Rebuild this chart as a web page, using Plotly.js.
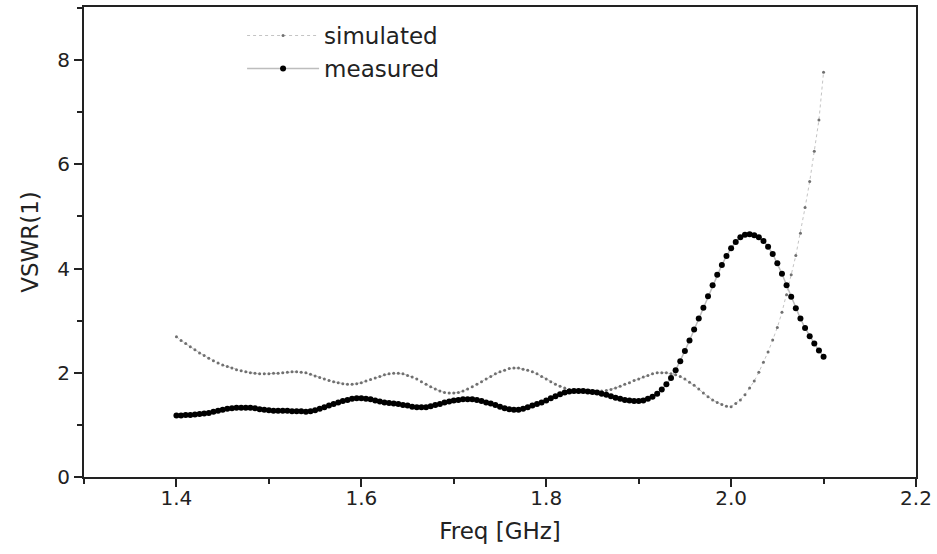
<!DOCTYPE html>
<html>
<head>
<meta charset="utf-8">
<script src="https://cdn.plot.ly/plotly-3.0.1.min.js"></script>
<style>html,body{margin:0;padding:0;background:#fff}#chart{width:937px;height:554px}</style>
</head>
<body>
<div id="chart"></div>
<script>
const freq = [
1.400,1.405,1.410,1.415,1.420,1.425,1.430,1.435,1.440,1.445,
1.450,1.455,1.460,1.465,1.470,1.475,1.480,1.485,1.490,1.495,
1.500,1.505,1.510,1.515,1.520,1.525,1.530,1.535,1.540,1.545,
1.550,1.555,1.560,1.565,1.570,1.575,1.580,1.585,1.590,1.595,
1.600,1.605,1.610,1.615,1.620,1.625,1.630,1.635,1.640,1.645,
1.650,1.655,1.660,1.665,1.670,1.675,1.680,1.685,1.690,1.695,
1.700,1.705,1.710,1.715,1.720,1.725,1.730,1.735,1.740,1.745,
1.750,1.755,1.760,1.765,1.770,1.775,1.780,1.785,1.790,1.795,
1.800,1.805,1.810,1.815,1.820,1.825,1.830,1.835,1.840,1.845,
1.850,1.855,1.860,1.865,1.870,1.875,1.880,1.885,1.890,1.895,
1.900,1.905,1.910,1.915,1.920,1.925,1.930,1.935,1.940,1.945,
1.950,1.955,1.960,1.965,1.970,1.975,1.980,1.985,1.990,1.995,
2.000,2.005,2.010,2.015,2.020,2.025,2.030,2.035,2.040,2.045,
2.050,2.055,2.060,2.065,2.070,2.075,2.080,2.085,2.090,2.095,
2.100];

const simulated = [
2.69,2.62,2.56,2.50,2.44,2.38,2.33,2.28,2.23,2.19,
2.15,2.12,2.09,2.06,2.04,2.02,2.00,1.99,1.98,1.98,
1.98,1.99,1.99,2.00,2.01,2.02,2.02,2.01,2.00,1.97,
1.94,1.91,1.88,1.85,1.83,1.81,1.79,1.78,1.78,1.79,
1.81,1.84,1.87,1.90,1.93,1.96,1.98,1.99,1.99,1.98,
1.95,1.92,1.88,1.83,1.78,1.73,1.69,1.65,1.62,1.61,
1.61,1.62,1.65,1.69,1.73,1.78,1.83,1.88,1.93,1.98,
2.02,2.05,2.08,2.09,2.09,2.07,2.05,2.02,1.98,1.93,
1.88,1.83,1.78,1.74,1.71,1.68,1.66,1.65,1.64,1.64,
1.64,1.64,1.65,1.66,1.68,1.71,1.74,1.78,1.81,1.85,
1.88,1.92,1.95,1.98,2.00,2.00,2.00,1.98,1.96,1.93,
1.88,1.82,1.76,1.69,1.61,1.54,1.48,1.43,1.39,1.36,
1.35,1.41,1.48,1.58,1.71,1.84,2.01,2.20,2.40,2.63,
2.87,3.16,3.50,3.88,4.25,4.68,5.17,5.67,6.25,6.85,
7.77];

const measured = [
1.18,1.18,1.19,1.19,1.20,1.21,1.22,1.23,1.25,1.27,
1.29,1.31,1.32,1.33,1.33,1.33,1.33,1.32,1.30,1.29,
1.28,1.27,1.27,1.27,1.27,1.26,1.26,1.26,1.25,1.26,
1.28,1.31,1.34,1.37,1.40,1.43,1.46,1.48,1.50,1.51,
1.51,1.50,1.49,1.47,1.45,1.43,1.42,1.41,1.40,1.38,
1.37,1.35,1.34,1.34,1.34,1.36,1.38,1.40,1.43,1.45,
1.47,1.48,1.49,1.49,1.49,1.48,1.46,1.43,1.41,1.38,
1.35,1.32,1.30,1.29,1.29,1.31,1.34,1.37,1.40,1.43,
1.47,1.51,1.55,1.59,1.62,1.64,1.65,1.65,1.65,1.64,
1.63,1.62,1.60,1.58,1.55,1.52,1.50,1.48,1.47,1.46,
1.46,1.47,1.50,1.54,1.60,1.68,1.78,1.90,2.05,2.22,
2.42,2.62,2.83,3.04,3.25,3.47,3.68,3.88,4.07,4.24,
4.39,4.51,4.60,4.65,4.66,4.64,4.60,4.53,4.42,4.28,
4.10,3.90,3.68,3.46,3.24,3.04,2.86,2.70,2.56,2.43,
2.31];

const seriesNames = ['simulated', 'measured'];
const xTitle = 'Freq [GHz]';
const yTitle = 'VSWR(1)';

const font = 'DejaVu Sans, Verdana, sans-serif';

const traces = [
  {
    x: freq, y: simulated, name: seriesNames[0], type: 'scatter', mode: 'lines+markers',
    line: {color: '#c4c4c4', width: 1, dash: 'dot'},
    marker: {color: '#707070', size: 3}
  },
  {
    x: freq, y: measured, name: seriesNames[1], type: 'scatter', mode: 'lines+markers',
    line: {color: '#bdbdbd', width: 1.5},
    marker: {color: '#000000', size: 6}
  }
];

const axisCommon = {
  showline: true, linecolor: '#222', linewidth: 2, mirror: true,
  ticks: 'outside', ticklen: 8, tickwidth: 2, tickcolor: '#222',
  showgrid: false, zeroline: false,
  tickfont: {family: font, size: 20, color: '#222'}
};

const layout = {
  width: 937, height: 554,
  margin: {l: 84, r: 21, t: 7, b: 77},
  paper_bgcolor: '#fff', plot_bgcolor: '#fff',
  font: {family: font, color: '#222'},
  xaxis: Object.assign({}, axisCommon, {
    range: [1.3, 2.2], tick0: 1.4, dtick: 0.2, tickformat: '.1f',
    ticklabelstandoff: -6,
    minor: {dtick: 0.1, tick0: 1.3, ticks: 'outside', ticklen: 5, tickwidth: 2, tickcolor: '#222'},
    title: {text: xTitle, font: {family: font, size: 23, color: '#222'}, standoff: 14}
  }),
  yaxis: Object.assign({}, axisCommon, {
    range: [0, 9.02], tick0: 0, dtick: 2,
    minor: {dtick: 1, ticks: 'outside', ticklen: 5, tickwidth: 2, tickcolor: '#222'},
    title: {text: yTitle, font: {family: font, size: 23, color: '#222'}, standoff: 12}
  }),
  legend: {
    x: 0.19, y: 0.985, xanchor: 'left', yanchor: 'top',
    bgcolor: 'rgba(0,0,0,0)', borderwidth: 0,
    font: {family: font, size: 23, color: '#222'},
    itemwidth: 72, tracegroupgap: 0
  },
  showlegend: true
};

Plotly.newPlot('chart', traces, layout, {displayModeBar: false, staticPlot: true});
</script>
</body>
</html>
